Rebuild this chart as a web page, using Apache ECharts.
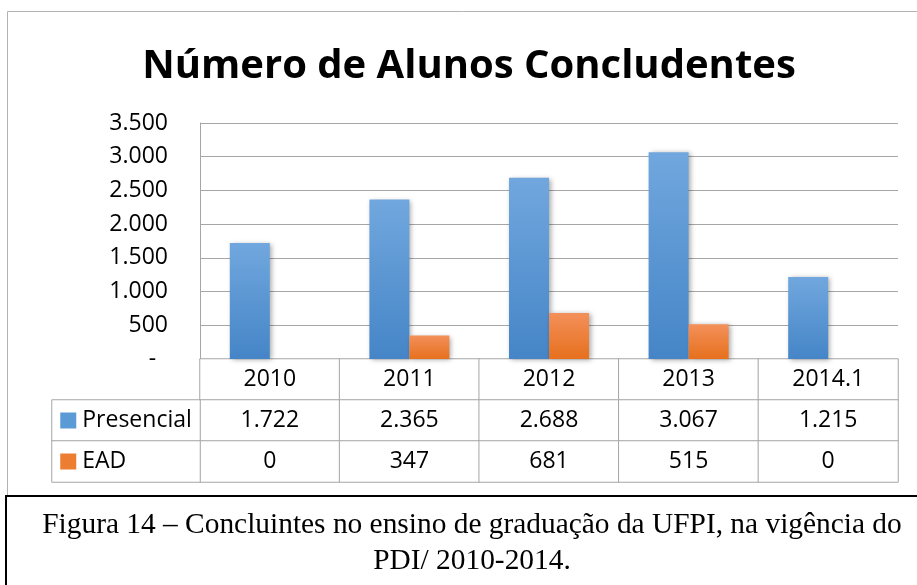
<!DOCTYPE html>
<html>
<head>
<meta charset="utf-8">
<script src="https://cdn.jsdelivr.net/npm/echarts@6/dist/echarts.min.js"></script>
<style>
  html, body { margin: 0; padding: 0; background: #fff; }
  #chart { width: 917px; height: 585px; }
</style>
</head>
<body>
<div id="chart"></div>
<script>
const years = ['2010', '2011', '2012', '2013', '2014.1']
const presencial = [1722, 2365, 2688, 3067, 1215]
const ead = [0, 347, 681, 515, 0]
const seriesNames = ['Presencial', 'EAD']
const yMax = 3500
const yStep = 500

const fmt = v => String(v).replace(/\B(?=(\d{3})+(?!\d))/g, '.')

// table cells: row 0 = years, row 1 = Presencial, row 2 = EAD
const rows = [years, presencial.map(fmt), ead.map(fmt)]
const cells = []
rows.forEach((r, ri) => r.forEach((_, ci) => cells.push([ci, ri, 0])))
const legendCells = [[0, 1, 0], [0, 2, 0]]

const font = 'Open Sans'
const gridColor = '#a6a6a6'
const blue = new echarts.graphic.LinearGradient(0, 0, 0, 1, [
  { offset: 0, color: '#71a7de' }, { offset: 1, color: '#4585c7' }
])
const orange = new echarts.graphic.LinearGradient(0, 0, 0, 1, [
  { offset: 0, color: '#f3905a' }, { offset: 1, color: '#e6701d' }
])
const shadow = { shadowBlur: 5, shadowOffsetX: 2, shadowOffsetY: 1, shadowColor: 'rgba(0,0,0,0.35)' }

const chart = echarts.init(document.getElementById('chart'))
chart.setOption({
  animation: false,
  backgroundColor: '#fff',
  title: [
    {
      text: 'Número de Alunos Concludentes',
      left: 464,
      top: 42,
      textAlign: 'center',
      textStyle: { fontFamily: font, fontSize: 40, fontWeight: 'bold', color: '#000' }
    },
    {
      text: 'Figura 14 – Concluintes no ensino de graduação da UFPI, na vigência do\nPDI/ 2010-2014.',
      left: 467,
      top: 502,
      textAlign: 'center',
      textStyle: { fontFamily: 'Liberation Serif', fontSize: 29.4, fontWeight: 'normal', color: '#000', lineHeight: 36 }
    }
  ],
  graphic: [
    { type: 'rect', shape: { x: 7.5, y: 11.5, width: 940, height: 484 }, style: { fill: 'none', stroke: '#b3b3b3', lineWidth: 1 }, z: -1 },
    { type: 'rect', shape: { x: 6, y: 496, width: 940, height: 120 }, style: { fill: '#fff', stroke: '#000', lineWidth: 2 }, z: -1 }
  ],
  grid: [
    { left: 200, right: 19, top: 123, height: 236 },
    { left: 200, right: 19, top: 359, height: 123 },
    { left: 52, width: 148, top: 359, height: 123 }
  ],
  xAxis: [
    { gridIndex: 0, type: 'category', data: years, axisLabel: { show: false }, axisTick: { show: false }, axisLine: { lineStyle: { color: gridColor } } },
    { gridIndex: 1, type: 'category', data: years, axisLabel: { show: false }, axisTick: { show: false }, axisLine: { show: false } },
    { gridIndex: 2, type: 'category', data: [''], axisLabel: { show: false }, axisTick: { show: false }, axisLine: { show: false } }
  ],
  yAxis: [
    {
      gridIndex: 0, type: 'value', min: 0, max: yMax, interval: yStep,
      axisLine: { show: true, lineStyle: { color: gridColor } },
      axisTick: { show: false },
      splitLine: { lineStyle: { color: gridColor } },
      axisLabel: {
        margin: 32,
        fontFamily: font, fontSize: 23, color: '#000',
        formatter: v => (v === 0 ? '-  ' : fmt(v))
      }
    },
    { gridIndex: 1, type: 'category', inverse: true, data: ['', ...seriesNames], show: false },
    { gridIndex: 2, type: 'category', inverse: true, data: ['', ...seriesNames], show: false }
  ],
  series: [
    {
      name: seriesNames[0], type: 'bar', xAxisIndex: 0, yAxisIndex: 0,
      data: presencial, barWidth: 40, barGap: '0%',
      itemStyle: Object.assign({ color: blue }, shadow)
    },
    {
      name: seriesNames[1], type: 'bar', xAxisIndex: 0, yAxisIndex: 0,
      data: ead, barWidth: 40, barGap: '0%',
      itemStyle: Object.assign({ color: orange }, shadow)
    },
    {
      type: 'heatmap', xAxisIndex: 1, yAxisIndex: 1, data: cells,
      itemStyle: { color: '#fff', borderColor: gridColor, borderWidth: 1 },
      emphasis: { disabled: true },
      label: {
        show: true, fontFamily: font, fontSize: 23, color: '#000',
        formatter: p => rows[p.data[1]][p.data[0]]
      }
    },
    {
      type: 'heatmap', xAxisIndex: 2, yAxisIndex: 2, data: legendCells,
      itemStyle: { color: '#fff', borderColor: gridColor, borderWidth: 1 },
      emphasis: { disabled: true },
      label: {
        show: true, position: 'insideLeft', distance: 9,
        fontFamily: font, fontSize: 23, color: '#000',
        formatter: p => '{' + (p.data[1] === 1 ? 'b' : 'o') + '|}{t|' + seriesNames[p.data[1] - 1] + '}',
        rich: {
          b: { width: 16, height: 16, backgroundColor: '#5b9bd5' },
          o: { width: 16, height: 16, backgroundColor: '#ed7d31' },
          t: { padding: [0, 0, 0, 6], fontFamily: font, fontSize: 23, color: '#000' }
        }
      }
    }
  ]
})
</script>
</body>
</html>
